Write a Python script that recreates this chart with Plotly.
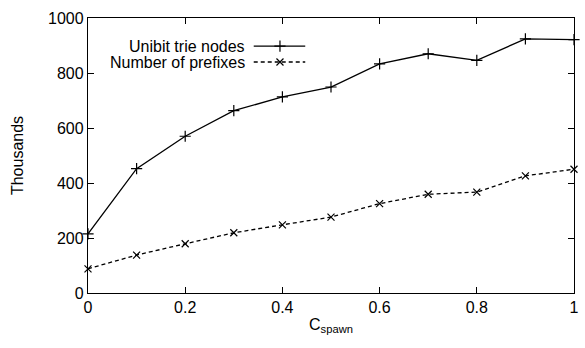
import plotly.graph_objects as go

c_spawn = [0, 0.1, 0.2, 0.3, 0.4, 0.5, 0.6, 0.7, 0.8, 0.9, 1.0]
unibit_nodes = [215, 452, 570, 663, 713, 749, 833, 870, 846, 924, 921]
num_prefixes = [88, 138, 179, 219, 248, 276, 325, 359, 367, 426, 450]
series_names = ["Unibit trie nodes", "Number of prefixes"]
x_ticks = [0, 0.2, 0.4, 0.6, 0.8, 1]
x_tick_labels = ["0", "0.2", "0.4", "0.6", "0.8", "1"]
y_ticks = [0, 200, 400, 600, 800, 1000]

FONT = "Liberation Sans, Arial, Helvetica, sans-serif"

fig = go.Figure()
fig.add_trace(go.Scatter(
    x=c_spawn, y=unibit_nodes, mode="lines+markers", name=series_names[0],
    line=dict(color="black", width=1.3),
    marker=dict(symbol="cross-thin", size=8, line=dict(color="black", width=1.2)),
    showlegend=False, cliponaxis=False))
fig.add_trace(go.Scatter(
    x=c_spawn, y=num_prefixes, mode="lines+markers", name=series_names[1],
    line=dict(color="black", width=1.3, dash="4px,3px"),
    marker=dict(symbol="x-thin", size=7, line=dict(color="black", width=1.2)),
    showlegend=False, cliponaxis=False))

# legend keys drawn on a hidden overlay axis (0..1)
fig.add_trace(go.Scatter(
    x=[0.341, 0.395, 0.447], y=[0.898, 0.898, 0.898], xaxis="x2", yaxis="y2",
    mode="lines", line=dict(color="black", width=1.3), showlegend=False, hoverinfo="skip"))
fig.add_trace(go.Scatter(
    x=[0.395], y=[0.898], xaxis="x2", yaxis="y2", mode="markers",
    marker=dict(symbol="cross-thin", size=8, line=dict(color="black", width=1.2)),
    showlegend=False, hoverinfo="skip"))
fig.add_trace(go.Scatter(
    x=[0.341, 0.447], y=[0.84, 0.84], xaxis="x2", yaxis="y2",
    mode="lines", line=dict(color="black", width=1.3, dash="4px,3px"), showlegend=False, hoverinfo="skip"))
fig.add_trace(go.Scatter(
    x=[0.395], y=[0.84], xaxis="x2", yaxis="y2", mode="markers",
    marker=dict(symbol="x-thin", size=7, line=dict(color="black", width=1.2)),
    showlegend=False, hoverinfo="skip"))

fig.add_annotation(x=0.328, y=0.898, xref="x2", yref="y2", text=series_names[0],
                   showarrow=False, xanchor="right", yanchor="middle",
                   font=dict(family=FONT, size=16, color="black"))
fig.add_annotation(x=0.328, y=0.84, xref="x2", yref="y2", text=series_names[1],
                   showarrow=False, xanchor="right", yanchor="middle",
                   font=dict(family=FONT, size=16, color="black"))

axis_common = dict(
    showline=True, linecolor="black", linewidth=1.3, mirror="allticks",
    ticks="inside", ticklen=6, tickwidth=1.2, tickcolor="black",
    showgrid=False, zeroline=False,
    tickfont=dict(family=FONT, size=16, color="black"),
)

fig.update_layout(
    width=585, height=348,
    margin=dict(l=88, r=6, t=18, b=55),
    paper_bgcolor="white", plot_bgcolor="white",
    font=dict(family=FONT, size=16, color="black"),
    xaxis=dict(range=[0, 1], tickvals=x_ticks, ticktext=x_tick_labels,
               title=dict(text="C<sub>spawn</sub>", standoff=3,
                          font=dict(family=FONT, size=16, color="black")),
               **axis_common),
    yaxis=dict(range=[0, 1000], tickvals=y_ticks,
               title=dict(text="Thousands", standoff=20,
                          font=dict(family=FONT, size=16, color="black")),
               **axis_common),
    xaxis2=dict(range=[0, 1], overlaying="x", visible=False, anchor="y2"),
    yaxis2=dict(range=[0, 1], overlaying="y", visible=False, anchor="x2"),
    showlegend=False,
)

fig.write_html("out.html")
